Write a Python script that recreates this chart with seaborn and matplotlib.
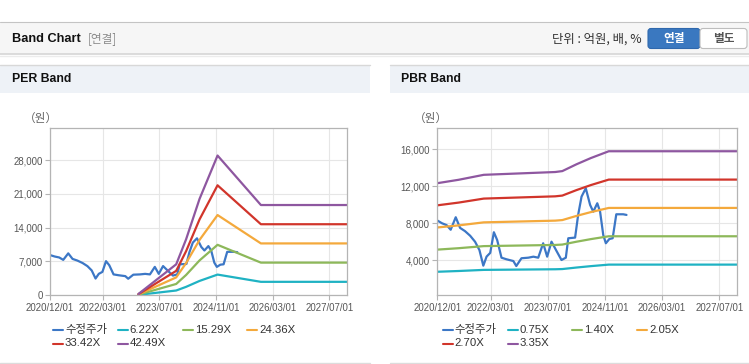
import matplotlib
matplotlib.use("Agg")
import matplotlib.pyplot as plt
from matplotlib.lines import Line2D
from matplotlib.patches import Rectangle, FancyBboxPatch
from matplotlib.transforms import IdentityTransform
from matplotlib.ticker import FuncFormatter
import seaborn as sns
import pandas as pd

# ---------------- data ----------------
price_dates = ["2020-12-01", "2021-01-10", "2021-02-18", "2021-03-25", "2021-05-07", "2021-06-13",
               "2021-07-25", "2021-09-07", "2021-10-19", "2021-11-25", "2021-12-28", "2022-01-25",
               "2022-02-25", "2022-03-28", "2022-04-25", "2022-06-01", "2022-07-13", "2022-09-10",
               "2022-10-05", "2022-11-18", "2023-01-15", "2023-02-28", "2023-04-10", "2023-05-22",
               "2023-06-25", "2023-08-01", "2023-09-13", "2023-10-25", "2023-12-01", "2023-12-22",
               "2024-02-18", "2024-03-15", "2024-04-13", "2024-05-19", "2024-06-25", "2024-07-22",
               "2024-08-25", "2024-09-18", "2024-10-15", "2024-11-06", "2024-12-06", "2025-01-03",
               "2025-02-03", "2025-04-03", "2025-05-01"]
price_vals = [8300, 8000, 7800, 7300, 8650, 7500,
              7150, 6650, 6000, 5100, 3420, 4400,
              4800, 7030, 6190, 4280, 4110, 3920,
              3380, 4220, 4280, 4390, 4280, 5840,
              4390, 6010, 5000, 4030, 4280, 6380,
              6450, 8900, 10880, 11780, 9980, 9250,
              10160, 9250, 6730, 5840, 6300, 6380,
              8970, 8970, 8900]

eps_dates = ["2023-01-01", "2023-11-22", "2024-02-15", "2024-06-10", "2024-11-12", "2025-11-20", "2027-12-01"]
eps_vals = [5, 150, 272, 470, 682, 440, 440]
per_multiples = [6.22, 15.29, 24.36, 33.42, 42.49]
per_labels = ["6.22X", "15.29X", "24.36X", "33.42X", "42.49X"]

bps_dates = ["2020-12-01", "2021-06-01", "2022-01-01", "2023-09-01", "2023-11-01", "2024-03-01",
             "2024-07-01", "2024-12-01", "2027-12-01"]
bps_vals = [3680, 3790, 3950, 4040, 4070, 4290, 4490, 4710, 4710]
pbr_multiples = [0.75, 1.40, 2.05, 2.70, 3.35]
pbr_labels = ["0.75X", "1.40X", "2.05X", "2.70X", "3.35X"]

xtick_dates = ["2020-12-01", "2022-03-01", "2023-07-01", "2024-11-01", "2026-03-01", "2027-07-01"]
xtick_labels = ["2020/12/01", "2022/03/01", "2023/07/01", "2024/11/01", "2026/03/01", "2027/07/01"]
per_yticks = [0, 7000, 14000, 21000, 28000]
pbr_yticks = [4000, 8000, 12000, 16000]

price_name = "수정주가"
price_color = "#3c77c6"
band_colors = ["#1fb2c3", "#8db85a", "#f4a93c", "#d1352b", "#8e57a0"]

# ---------------- style ----------------
sns.set_theme(style="white")
plt.rcParams['font.family'] = ['Liberation Sans', 'Noto Sans CJK KR', 'DejaVu Sans']
KR = ['Noto Sans CJK KR', 'Liberation Sans', 'DejaVu Sans']

W, H = 749, 364
fig = plt.figure(figsize=(W / 100, H / 100), dpi=100)
fig.patch.set_facecolor("white")
T = IdentityTransform()


def Y(y):
    return H - y


def band_frame(dates, base, mults, labels):
    rows = []
    for m, lab in zip(mults, labels):
        for d, b in zip(dates, base):
            rows.append({"date": pd.Timestamp(d), "value": m * b, "series": lab})
    return pd.DataFrame(rows)


price_df = pd.DataFrame({"date": pd.to_datetime(price_dates), "value": price_vals})


def style_axes(ax, yticks, ylim):
    ax.set_facecolor("white")
    ax.set_xlim(pd.Timestamp("2020-12-01"), pd.Timestamp("2027-12-01"))
    ax.set_ylim(*ylim)
    ax.set_xticks(pd.to_datetime(xtick_dates))
    ax.set_xticklabels(xtick_labels)
    ax.set_yticks(yticks)
    ax.yaxis.set_major_formatter(FuncFormatter(lambda v, p: f"{int(v):,}"))
    ax.grid(True, color="#e6e6e6", lw=0.8)
    ax.set_axisbelow(True)
    for s in ax.spines.values():
        s.set_color("#b4b4b4")
        s.set_linewidth(0.9)
    ax.tick_params(axis="both", length=3.5, width=0.8, color="#b4b4b4",
                   labelsize=6.9, labelcolor="#555555", pad=1.8)
    ax.tick_params(axis="x", bottom=True, pad=2.4)
    ax.tick_params(axis="y", left=True)
    ax.set_xlabel("")
    ax.set_ylabel("")


# ---------------- decorations ----------------
# header bar
fig.add_artist(Rectangle((0, Y(54)), W, 32, transform=T, facecolor="#f6f6f6",
                         edgecolor="none", zorder=0))
fig.add_artist(Line2D([0, W], [Y(22), Y(22)], transform=T, color="#c4c4c4", lw=0.8))
fig.add_artist(Line2D([0, W], [Y(54), Y(54)], transform=T, color="#d6d6d6", lw=1.2))
fig.add_artist(Line2D([0, W], [Y(55.5), Y(55.5)], transform=T, color="#ececec", lw=1.0))
fig.text(12, Y(39), "Band Chart", transform=T, fontsize=9.2, fontweight="bold",
         color="#111111", va="center", ha="left")
fig.text(88, Y(39), "[연결]", transform=T, fontsize=8.4, color="#8a8a8a",
         va="center", ha="left", family=KR)
fig.text(642, Y(39), "단위 : 억원, 배, %", transform=T, fontsize=8.9, color="#333333",
         va="center", ha="right", family=KR)
fig.add_artist(FancyBboxPatch((648, Y(48.5)), 52, 20, transform=T,
                              boxstyle="round,pad=0,rounding_size=3",
                              facecolor="#3a78c0", edgecolor="#2f68ad", lw=0.8))
fig.add_artist(FancyBboxPatch((700, Y(48.5)), 47, 20, transform=T,
                              boxstyle="round,pad=0,rounding_size=3",
                              facecolor="white", edgecolor="#bdbdbd", lw=0.8))
fig.text(674, Y(38.5), "연결", transform=T, fontsize=8.4, fontweight="bold", color="white",
         va="center", ha="center", family=KR)
fig.text(723.5, Y(38.5), "별도", transform=T, fontsize=8.4, fontweight="bold", color="#555555",
         va="center", ha="center", family=KR)

# panel headers
for x0, x1, title, tx in [(0, 370, "PER Band", 11.5), (390, W, "PBR Band", 401)]:
    fig.add_artist(Rectangle((x0, Y(93)), x1 - x0, 28.5, transform=T, facecolor="#eef2f7",
                             edgecolor="none", zorder=0))
    fig.add_artist(Line2D([x0, x1], [Y(64.5), Y(64.5)], transform=T, color="#d8d8d8", lw=1.0))
    fig.add_artist(Line2D([x0, x1], [Y(362.5), Y(362.5)], transform=T, color="#dcdcdc", lw=1.0))
    fig.text(tx, Y(79.5), title, transform=T, fontsize=8.8, fontweight="bold",
             color="#111111", va="center", ha="left")

fig.text(24, Y(118), "（원）", transform=T, fontsize=8.4, color="#666666",
         va="center", ha="left", family=KR)
fig.text(414, Y(118), "（원）", transform=T, fontsize=8.4, color="#666666",
         va="center", ha="left", family=KR)

# ---------------- axes ----------------
ax1 = fig.add_axes([50 / W, (H - 295) / H, 297 / W, 167 / H])
ax2 = fig.add_axes([437.3 / W, (H - 295) / H, 300 / W, 167 / H])

per_df = band_frame(eps_dates, eps_vals, per_multiples, per_labels)
pbr_df = band_frame(bps_dates, bps_vals, pbr_multiples, pbr_labels)

for ax, bdf, labels, yt, yl in [(ax1, per_df, per_labels, per_yticks, (0, 34700)),
                                (ax2, pbr_df, pbr_labels, pbr_yticks, (250, 18290))]:
    sns.lineplot(data=price_df, x="date", y="value", ax=ax, color=price_color,
                 lw=1.6, estimator=None, legend=False)
    sns.lineplot(data=bdf, x="date", y="value", hue="series", ax=ax,
                 palette=dict(zip(labels, band_colors)), hue_order=labels,
                 lw=1.6, estimator=None, legend=False, sort=False)
    style_axes(ax, yt, yl)

# ---------------- legends ----------------
def draw_legend(x0, names, colors):
    step = 64.8
    pos = [(x0, 330), (x0 + step, 330), (x0 + 2 * step, 330), (x0 + 3 * step, 330),
           (x0, 343.5), (x0 + step, 343.5)]
    for (x, y), n, c in zip(pos, names, colors):
        fig.add_artist(Line2D([x, x + 10], [Y(y), Y(y)], transform=T, color=c, lw=1.5))
        fig.text(x + 12, Y(y), n, transform=T, fontsize=8.2, color="#333333",
                 va="center", ha="left", family=KR if n == price_name else None)


draw_legend(53, [price_name] + per_labels, [price_color] + band_colors)
draw_legend(442.7, [price_name] + pbr_labels, [price_color] + band_colors)

fig.savefig("out.png", dpi=100, facecolor="white")
